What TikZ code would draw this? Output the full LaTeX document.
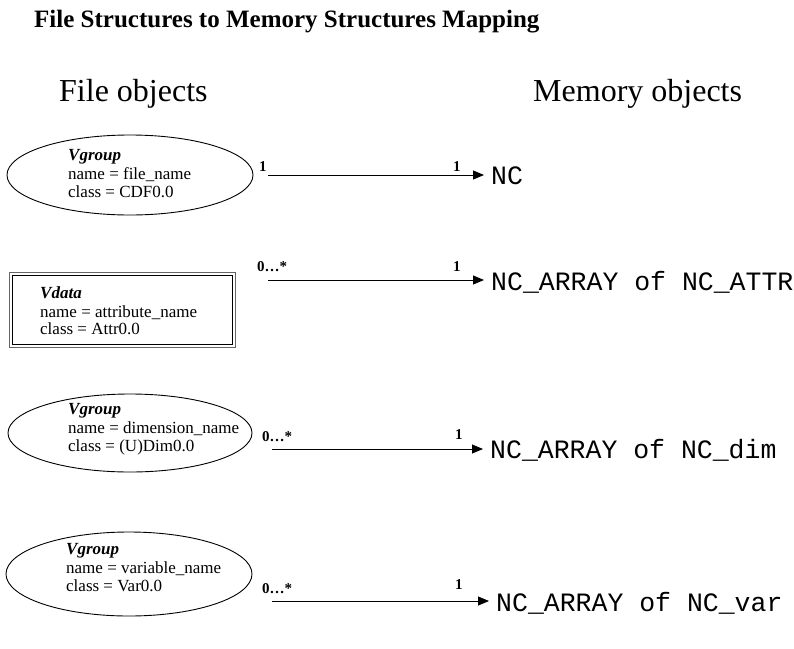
\documentclass[tikz,border=0pt]{standalone}
\usepackage{fontspec}
\setmainfont{Liberation Serif}
\setmonofont{Liberation Mono}
\usetikzlibrary{shapes.geometric,arrows.meta}
\begin{document}
\begin{tikzpicture}[x=1pt,y=-1pt,
  ell/.style={draw, ellipse, line width=0.9pt, inner sep=0pt},
  inf/.style={anchor=base west, font=\fontsize{17}{17}\selectfont, inner sep=0pt},
  mult/.style={anchor=base west, font=\fontsize{15}{15}\selectfont\bfseries, inner sep=0pt},
  mem/.style={anchor=base west, font=\fontsize{26.5}{26.5}\selectfont\ttfamily, inner xsep=7pt, inner ysep=0pt},
  hdr/.style={anchor=base west, font=\fontsize{32}{32}\selectfont, inner sep=0pt},
  arr/.style={-{Triangle[length=11pt,width=9pt]}, line width=0.9pt}]
\useasboundingbox (0,0) rectangle (794,648);

\node[anchor=base west, font=\fontsize{25}{25}\selectfont\bfseries, inner sep=0pt] (title) at (34,27) {File Structures to Memory Structures Mapping};
\node[hdr] (hfile) at (59,101) {File objects};
\node[hdr] (hmem) at (533,101) {Memory objects};

% row 1
\node[ell, minimum width=246, minimum height=80] (e1) at (130,175) {};
\node[inf] (e1a) at (68,160) {\textbf{\textit{Vgroup}}};
\node[inf] (e1b) at (68,179) {name = file\_name};
\node[inf] (e1c) at (68,197) {class = CDF0.0};
\coordinate (s1) at (268,175);
\node[mem] (m1) at (484,184) {NC};
\draw[arr] (s1) -- (s1 -| m1.west);
\node[mult] (l1a) at (259,171) {1};
\node[mult] (l1b) at (453,171) {1};

% row 2
\node[draw, black!60, line width=0.9pt, minimum width=226, minimum height=75, inner sep=0pt] (e2) at (122,309.5) {};
\node[draw, line width=0.9pt, minimum width=220, minimum height=69, inner sep=0pt] (e2in) at (122,309.5) {};
\node[inf] (e2a) at (40,298) {\textbf{\textit{Vdata}}};
\node[inf] (e2b) at (40,317) {name = attribute\_name};
\node[inf] (e2c) at (40,334) {class = Attr0.0};
\coordinate (s2) at (268,280);
\node[mem] (m2) at (484,290) {NC\_ARRAY of NC\_ATTR};
\draw[arr] (s2) -- (s2 -| m2.west);
\node[mult] (l2a) at (257,271) {0…*};
\node[mult] (l2b) at (453,271) {1};

% row 3
\node[ell, minimum width=244, minimum height=78] (e3) at (130,433) {};
\node[inf] (e3a) at (68,414) {\textbf{\textit{Vgroup}}};
\node[inf] (e3b) at (68,433) {name = dimension\_name};
\node[inf] (e3c) at (68,451) {class = (U)Dim0.0};
\coordinate (s3) at (272,449);
\node[mem] (m3) at (483,458) {NC\_ARRAY of NC\_dim};
\draw[arr] (s3) -- (s3 -| m3.west);
\node[mult] (l3a) at (262,441) {0…*};
\node[mult] (l3b) at (455,439) {1};

% row 4
\node[ell, minimum width=246, minimum height=84] (e4) at (129,574) {};
\node[inf] (e4a) at (66,554) {\textbf{\textit{Vgroup}}};
\node[inf] (e4b) at (66,573) {name = variable\_name};
\node[inf] (e4c) at (66,591) {class = Var0.0};
\coordinate (s4) at (272,601);
\node[mem] (m4) at (489,611) {NC\_ARRAY of NC\_var};
\draw[arr] (s4) -- (s4 -| m4.west);
\node[mult] (l4a) at (262,593) {0…*};
\node[mult] (l4b) at (455,589) {1};
\end{tikzpicture}
\end{document}
